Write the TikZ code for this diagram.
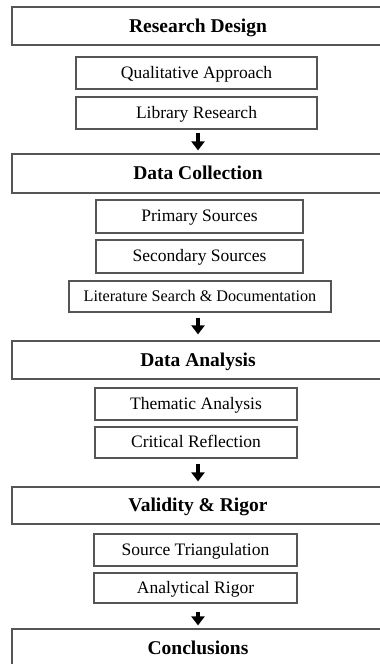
\documentclass[tikz,border=0pt]{standalone}
\usepackage{fontspec}
\setmainfont{Liberation Serif}
\usetikzlibrary{arrows.meta}
\definecolor{boxline}{HTML}{555555}
\tikzset{
  bigbox/.style={draw=boxline, line width=1.2pt, inner sep=0pt, minimum width=372pt, text height=14pt, text depth=2pt, font=\fontsize{19.5}{22}\selectfont\bfseries},
  subbox/.style={draw=boxline, line width=1.2pt, inner sep=0pt, text height=12pt, text depth=2pt, font=\fontsize{17.5}{20}\selectfont},
  arr/.style={line width=3.2pt, -{Triangle[width=13pt,length=9pt]}}
}
\begin{document}
\begin{tikzpicture}[x=1pt,y=-1pt]
\useasboundingbox (0,0) rectangle (380,664);
\clip (0,0) rectangle (380,664);
\fill[white] (0,0) rectangle (380,664);
% main boxes
\node[bigbox, minimum height=38pt] (rd) at (198,26) {Research Design};
\node[bigbox, minimum height=39pt] (dc) at (198,173.5) {Data Collection};
\node[bigbox, minimum height=38pt] (da) at (198,360) {Data Analysis};
\node[bigbox, minimum height=37pt] (vr) at (198,505.5) {Validity \& Rigor};
\node[bigbox, minimum height=38pt] (cc) at (198,648) {Conclusions};
% sub boxes
\node[subbox, minimum width=241pt, minimum height=32pt] (qa) at (196.5,73) {Qualitative Approach};
\node[subbox, minimum width=241pt, minimum height=32pt] (lr) at (196.5,113) {Library Research};
\node[subbox, minimum width=207pt, minimum height=33pt] (ps) at (199.5,216.5) {Primary Sources};
\node[subbox, minimum width=207pt, minimum height=33pt] (ss) at (199.5,256.5) {Secondary Sources};
\node[subbox, minimum width=262pt, minimum height=31pt, font=\fontsize{16.2}{19}\selectfont] (ls) at (200,296.5) {Literature Search \& Documentation};
\node[subbox, minimum width=202pt, minimum height=32pt] (ta) at (196,404) {Thematic Analysis};
\node[subbox, minimum width=202pt, minimum height=31pt] (cr) at (196,442.5) {Critical Reflection};
\node[subbox, minimum width=203pt, minimum height=32pt] (st) at (195.5,550) {Source Triangulation};
\node[subbox, minimum width=203pt, minimum height=30pt] (ar) at (195.5,588) {Analytical Rigor};
% arrows
\draw[arr] ([yshift=-3pt]lr.south -| rd.center) -- ([yshift=3pt]dc.north -| rd.center);
\draw[arr] ([yshift=-5pt]ls.south -| rd.center) -- ([yshift=6pt]da.north -| rd.center);
\draw[arr] ([yshift=-5pt]cr.south -| rd.center) -- ([yshift=5pt]vr.north -| rd.center);
\draw[arr] ([yshift=-8pt]ar.south -| rd.center) -- ([yshift=3pt]cc.north -| rd.center);
\end{tikzpicture}
\end{document}
